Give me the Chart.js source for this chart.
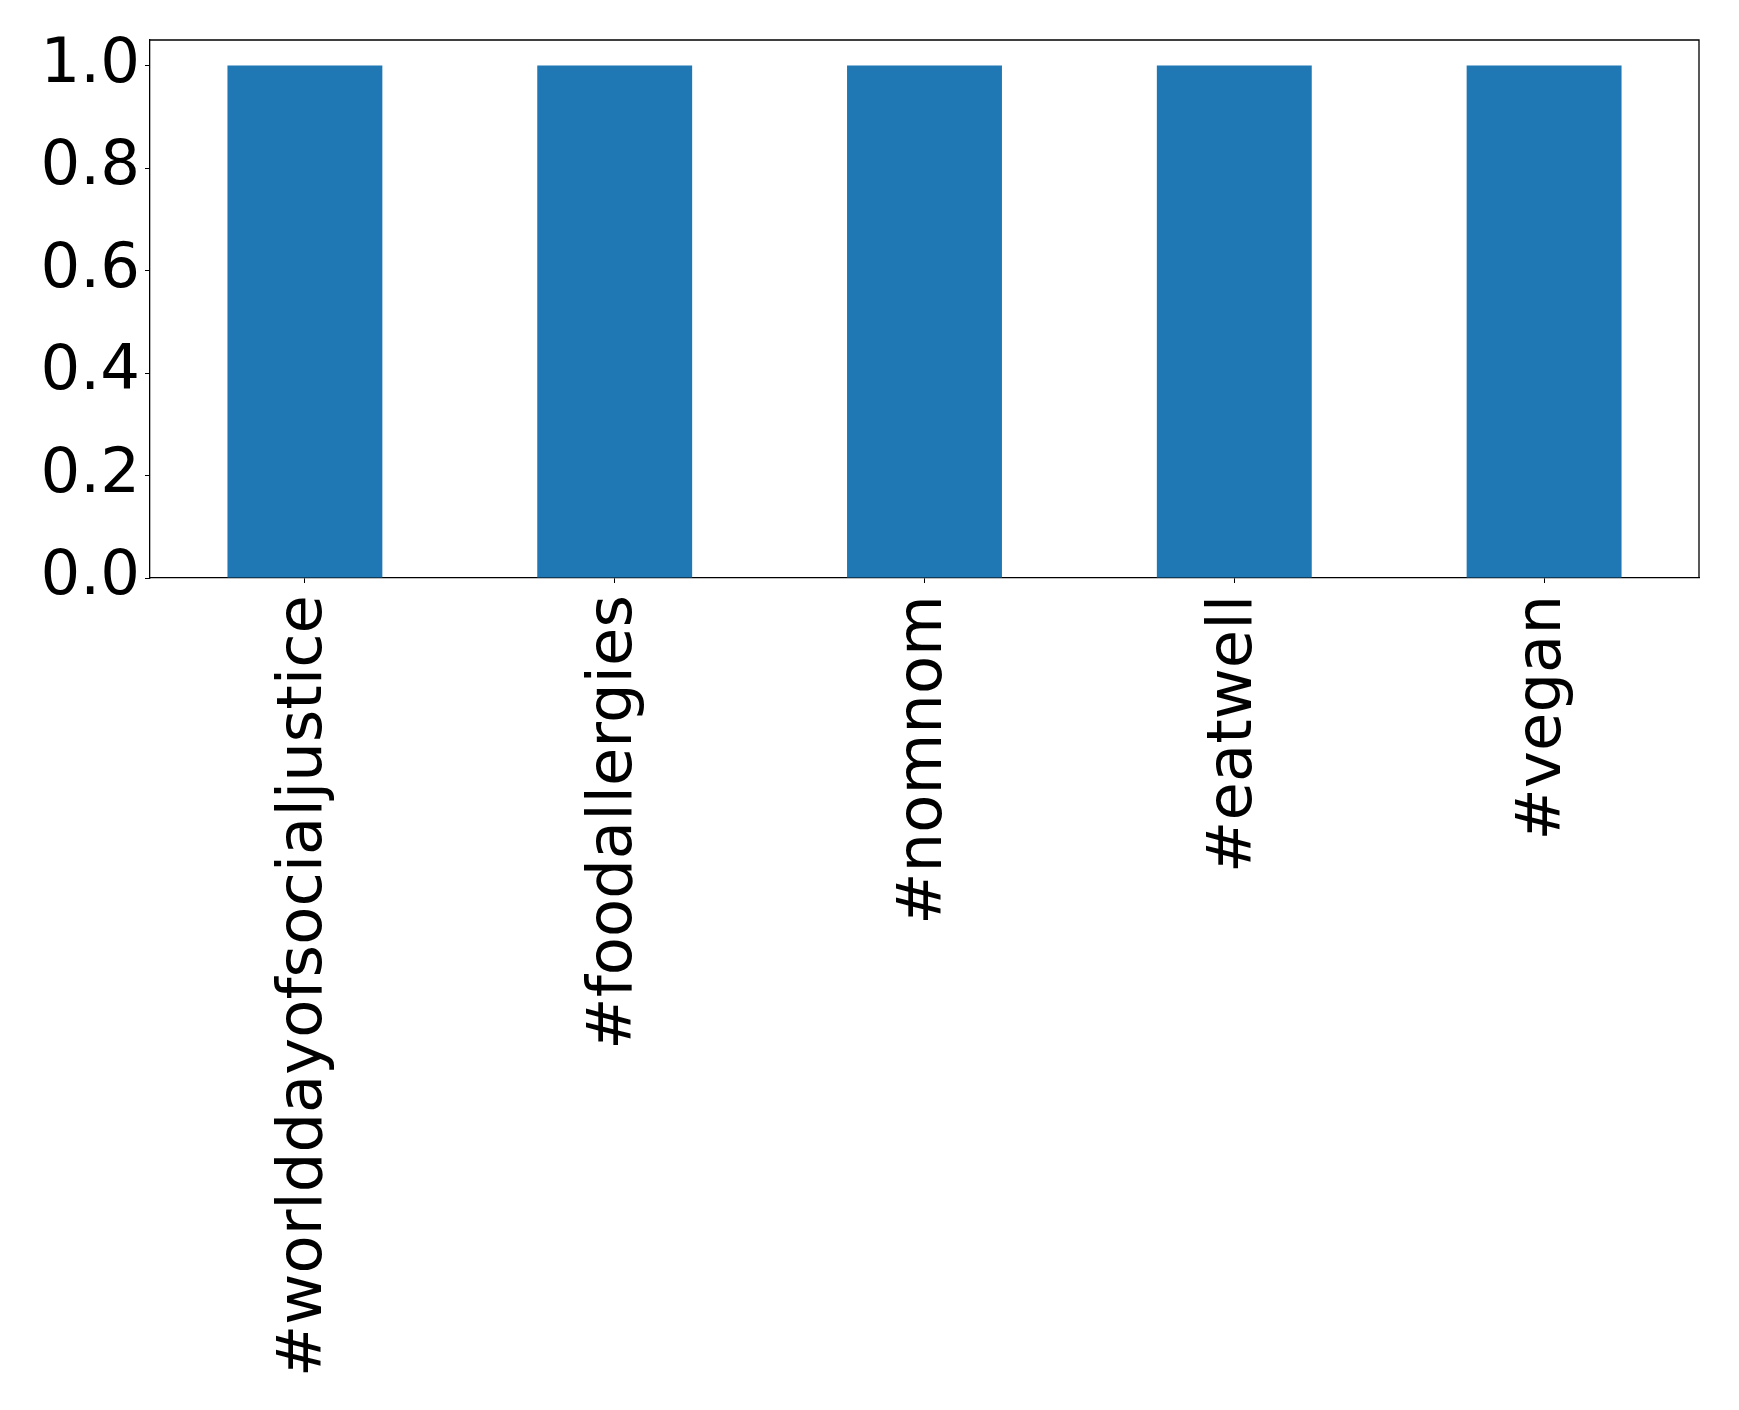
<!DOCTYPE html>
<html>
<head>
<meta charset="utf-8">
<script src="https://cdn.jsdelivr.net/npm/chart.js@4/dist/chart.umd.min.js"></script>
<style>
  body { margin: 0; background: #fff; }
  #wrap { width: 1739px; height: 1410px; }
</style>
</head>
<body>
<div id="wrap"><canvas id="tagChart" width="1739" height="1410"></canvas></div>
<script>
const hashtags = ['#worlddayofsocialjustice', '#foodallergies', '#nomnom', '#eatwell', '#vegan'];
const counts = [1, 1, 1, 1, 1];
const yTicks = [0, 0.2, 0.4, 0.6, 0.8, 1.0];

const fontSpec = { family: 'DejaVu Sans', size: 62.5 };

// matplotlib-style box: top and right edges of the axes
const frame = {
  id: 'frame',
  afterDraw(chart) {
    const a = chart.chartArea;
    const c = chart.ctx;
    c.save();
    c.strokeStyle = '#000';
    c.lineWidth = 1.3;
    c.beginPath();
    c.moveTo(a.left, a.top);
    c.lineTo(a.right, a.top);
    c.lineTo(a.right, a.bottom);
    c.stroke();
    c.restore();
  }
};

const ctx = document.getElementById('tagChart').getContext('2d');
const tagChart = new Chart(ctx, {
  type: 'bar',
  data: {
    labels: hashtags,
    datasets: [{
      data: counts,
      backgroundColor: '#1f77b4',
      barPercentage: 0.5,
      categoryPercentage: 1.0
    }]
  },
  options: {
    responsive: false,
    animation: false,
    layout: { padding: { top: 40, right: 40, left: 0, bottom: 0 } },
    plugins: { legend: { display: false }, tooltip: { enabled: false } },
    scales: {
      x: {
        grid: { offset: false, drawOnChartArea: false, drawTicks: true, tickLength: 5, color: '#000' },
        border: { display: true, color: '#000', width: 1.3 },
        ticks: {
          color: '#000',
          font: fontSpec,
          minRotation: 90,
          maxRotation: 90,
          autoSkip: false,
          padding: 12
        },
        afterFit(scale) {
          scale.height = 832;
          scale.paddingLeft = 0;
          scale.paddingRight = 0;
        }
      },
      y: {
        min: 0,
        max: 1.05,
        afterBuildTicks(scale) { scale.ticks = yTicks.map(v => ({ value: v })); },
        grid: { drawOnChartArea: false, drawTicks: true, tickLength: 5, color: '#000' },
        border: { display: true, color: '#000', width: 1.3 },
        ticks: {
          color: '#000',
          font: fontSpec,
          padding: 5,
          callback: v => Number(v).toFixed(1)
        },
        afterFit(scale) {
          scale.width = 150;
          scale.paddingTop = 0;
          scale.paddingBottom = 0;
        }
      }
    }
  },
  plugins: [frame]
});
</script>
</body>
</html>
